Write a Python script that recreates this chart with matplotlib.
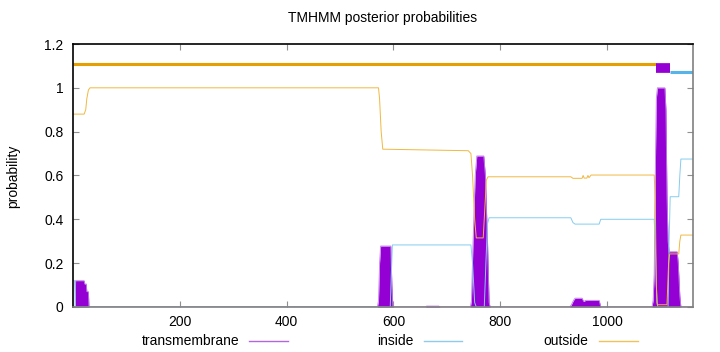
import matplotlib
matplotlib.use("Agg")
import matplotlib.pyplot as plt
from matplotlib.lines import Line2D

plt.rcParams['font.family'] = ['Liberation Sans', 'DejaVu Sans']

# posterior probabilities as (residue, value) vertices
tm_res = [1, 4, 5, 21, 22, 25, 26, 29, 30, 570, 572, 574, 576, 595, 597, 599,
          660, 662, 685, 687, 744, 746, 749, 753, 756, 769, 772, 776, 779, 781,
          930, 933, 937, 940, 953, 956, 960, 985, 988, 1084, 1086, 1088, 1090,
          1092, 1094, 1108, 1110, 1112, 1114, 1116, 1117, 1131, 1133, 1136, 1138, 1160]
tm_val = [0, 0, 0.12, 0.12, 0.105, 0.105, 0.07, 0.07, 0, 0, 0.03, 0.2, 0.278, 0.278, 0.1, 0,
          0, 0.004, 0.004, 0, 0, 0.03, 0.3, 0.6, 0.689, 0.689, 0.6, 0.3, 0.02, 0,
          0, 0.01, 0.03, 0.04, 0.04, 0.025, 0.03, 0.03, 0, 0, 0.03, 0.15, 0.6,
          0.95, 1.0, 1.0, 0.9, 0.5, 0.3, 0.25, 0.252, 0.252, 0.2, 0.05, 0, 0]

in_res = [1, 3, 5, 594, 596, 598, 745, 748, 752, 755, 770, 773, 776, 779, 932, 936,
          940, 985, 988, 1088, 1090, 1093, 1095, 1114, 1116, 1118, 1134, 1136, 1138, 1160]
in_val = [0.12, 0.12, 0, 0, 0.15, 0.283, 0.283, 0.2, 0.02, 0, 0, 0.2, 0.38, 0.407, 0.407, 0.385,
          0.378, 0.378, 0.4, 0.4, 0.3, 0.02, 0, 0, 0.3, 0.503, 0.503, 0.6, 0.675, 0.675]

out_res = [1, 21, 24, 26, 29, 32, 572, 574, 577, 580, 740, 745, 748, 752, 755, 768, 771,
           774, 777, 932, 936, 953, 955, 957, 962, 964, 966, 970, 1088, 1090, 1092, 1094,
           1112, 1115, 1117, 1134, 1136, 1138, 1160]
out_val = [0.88, 0.88, 0.9, 0.95, 0.99, 1.0, 1.0, 0.95, 0.8, 0.72, 0.713, 0.7, 0.6, 0.4, 0.315, 0.315, 0.45,
           0.58, 0.594, 0.594, 0.587, 0.587, 0.6, 0.588, 0.588, 0.6, 0.59, 0.602, 0.602, 0.5, 0.1, 0.01,
           0.01, 0.2, 0.242, 0.242, 0.3, 0.328, 0.328]

# predicted topology shown above the curves
top_outside = [(1, 1092)]
top_tm = [(1092, 1117)]
top_inside = [(1117, 1160)]

seq_len = 1160
xticks = [200, 400, 600, 800, 1000]
yticks = [0, 0.2, 0.4, 0.6, 0.8, 1.0, 1.2]
ytick_labels = ['0', '0.2', '0.4', '0.6', '0.8', '1', '1.2']
legend_names = ['transmembrane', 'inside', 'outside']

c_tm = '#9400d3'
c_in = '#56b4e9'
c_out = '#e69f00'

fig = plt.figure(figsize=(7.2, 3.52), dpi=100)
ax = fig.add_axes([0.102, 0.128, 0.860, 0.747])

ax.fill_between(tm_res, 0, tm_val, color=c_tm, lw=0)
ax.plot(tm_res, tm_val, color='#c080e8', lw=0.6)
ax.plot(in_res, in_val, color='#86ccef', lw=0.7)
ax.plot(out_res, out_val, color='#f0b840', lw=0.7)

for a, b in top_outside:
    ax.plot([a, b], [1.11, 1.11], color=c_out, lw=2.2, solid_capstyle='butt')
for a, b in top_tm:
    ax.plot([a, b], [1.09, 1.09], color=c_tm, lw=7, solid_capstyle='butt')
for a, b in top_inside:
    ax.plot([a, b], [1.07, 1.07], color=c_in, lw=2.2, solid_capstyle='butt')

ax.set_xlim(1, seq_len)
ax.set_ylim(0, 1.2)
ax.set_xticks(xticks)
ax.set_yticks(yticks)
ax.set_yticklabels(ytick_labels)
ax.tick_params(direction='in', top=True, right=True, length=4, color='#909090',
               labelsize=10, width=0.8)
ax.tick_params(axis='y', pad=7)
ax.tick_params(axis='x', pad=6)
ax.spines['left'].set_color('black')
ax.spines['top'].set_color('black')
ax.spines['bottom'].set_color('#808080')
ax.spines['right'].set_color('#808080')
for s in ax.spines.values():
    s.set_linewidth(1.2)

fig.text(0.532, 0.948, 'TMHMM posterior probabilities', ha='center', va='center', fontsize=10)
fig.text(0.018, 0.50, 'probability', rotation=90, ha='center', va='center', fontsize=10)

# gnuplot style key along the bottom
leg_colors = ['#b266e0', '#8fcbea', '#f2c25a']
text_right = [239, 414, 588]
line_span = [(249, 288), (424, 462), (599, 638)]
ky = 1 - 341 / 352
for name, col, tr, (l0, l1) in zip(legend_names, leg_colors, text_right, line_span):
    fig.text(tr / 720, ky, name, ha='right', va='center', fontsize=10)
    fig.add_artist(Line2D([l0 / 720, l1 / 720], [ky, ky], color=col, lw=1.0))

fig.savefig('out.png', dpi=100)
